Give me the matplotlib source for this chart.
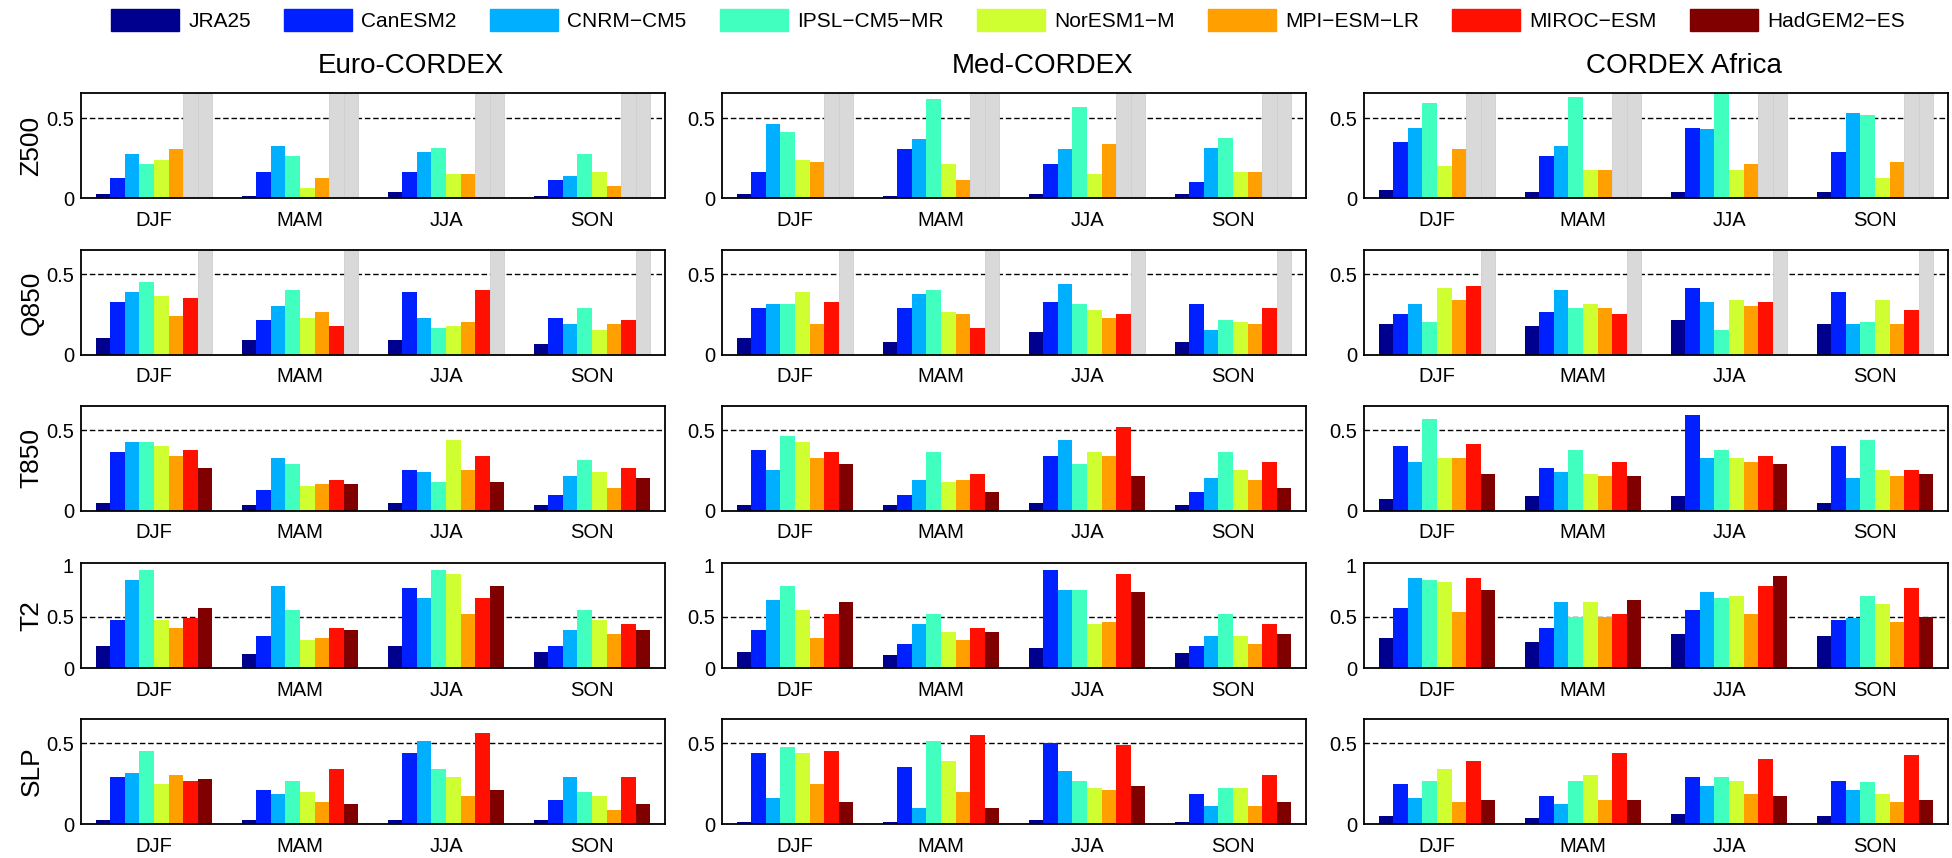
import numpy as np
import matplotlib.pyplot as plt

plt.rcParams["font.family"] = ["Liberation Sans", "DejaVu Sans"]

nan = np.nan

models = ["JRA25", "CanESM2", "CNRM\u2212CM5", "IPSL\u2212CM5\u2212MR", "NorESM1\u2212M",
          "MPI\u2212ESM\u2212LR", "MIROC\u2212ESM", "HadGEM2\u2212ES"]
colors = ["#00008f", "#0020ff", "#00afff", "#40ffbf", "#cfff30", "#ff9f00", "#ff1000", "#800000"]
seasons = ["DJF", "MAM", "JJA", "SON"]
regions = ["Euro-CORDEX", "Med-CORDEX", "CORDEX Africa"]
variables = ["Z500", "Q850", "T850", "T2", "SLP"]

# rows: DJF, MAM, JJA, SON ; columns: models (nan = not available)
z500_euro = [[0.025, 0.128, 0.277, 0.214, 0.242, 0.305, nan, nan],
             [0.013, 0.164, 0.328, 0.265, 0.063, 0.128, nan, nan],
             [0.038, 0.164, 0.292, 0.315, 0.151, 0.151, nan, nan],
             [0.013, 0.113, 0.139, 0.277, 0.164, 0.076, nan, nan]]
z500_med = [[0.025, 0.164, 0.468, 0.418, 0.242, 0.227, nan, nan],
            [0.013, 0.305, 0.368, 0.620, 0.214, 0.113, nan, nan],
            [0.025, 0.214, 0.305, 0.569, 0.151, 0.342, nan, nan],
            [0.025, 0.101, 0.317, 0.380, 0.164, 0.164, nan, nan]]
z500_afr = [[0.050, 0.355, 0.443, 0.595, 0.202, 0.305, nan, nan],
            [0.038, 0.267, 0.330, 0.632, 0.176, 0.176, nan, nan],
            [0.038, 0.443, 0.431, 0.680, 0.176, 0.214, nan, nan],
            [0.038, 0.292, 0.532, 0.519, 0.126, 0.227, nan, nan]]

q850_euro = [[0.103, 0.329, 0.390, 0.452, 0.364, 0.240, 0.353, nan],
             [0.091, 0.215, 0.302, 0.403, 0.229, 0.267, 0.180, nan],
             [0.091, 0.390, 0.229, 0.167, 0.180, 0.205, 0.403, nan],
             [0.066, 0.229, 0.192, 0.291, 0.155, 0.192, 0.217, nan]]
q850_med = [[0.103, 0.291, 0.316, 0.316, 0.390, 0.192, 0.329, nan],
            [0.079, 0.291, 0.378, 0.403, 0.267, 0.252, 0.167, nan],
            [0.140, 0.329, 0.440, 0.316, 0.279, 0.229, 0.252, nan],
            [0.079, 0.316, 0.155, 0.217, 0.205, 0.192, 0.291, nan]]
q850_afr = [[0.192, 0.254, 0.316, 0.205, 0.415, 0.341, 0.428, nan],
            [0.180, 0.267, 0.403, 0.291, 0.316, 0.291, 0.254, nan],
            [0.217, 0.415, 0.329, 0.155, 0.341, 0.304, 0.329, nan],
            [0.192, 0.390, 0.192, 0.205, 0.341, 0.192, 0.279, nan]]

t850_euro = [[0.052, 0.367, 0.429, 0.429, 0.404, 0.342, 0.379, 0.267],
             [0.040, 0.129, 0.329, 0.292, 0.152, 0.165, 0.192, 0.165],
             [0.052, 0.254, 0.242, 0.177, 0.442, 0.254, 0.342, 0.179],
             [0.040, 0.102, 0.217, 0.317, 0.242, 0.142, 0.267, 0.204]]
t850_med = [[0.040, 0.379, 0.254, 0.467, 0.429, 0.329, 0.367, 0.292],
            [0.040, 0.102, 0.192, 0.367, 0.179, 0.192, 0.229, 0.117],
            [0.052, 0.342, 0.442, 0.292, 0.367, 0.342, 0.517, 0.217],
            [0.040, 0.117, 0.204, 0.367, 0.254, 0.192, 0.304, 0.142]]
t850_afr = [[0.077, 0.404, 0.304, 0.567, 0.329, 0.329, 0.417, 0.229],
            [0.090, 0.267, 0.242, 0.379, 0.229, 0.217, 0.304, 0.217],
            [0.090, 0.592, 0.329, 0.379, 0.329, 0.304, 0.342, 0.292],
            [0.052, 0.404, 0.204, 0.442, 0.254, 0.217, 0.254, 0.229]]

t2_euro = [[0.218, 0.468, 0.853, 0.949, 0.468, 0.391, 0.487, 0.583],
           [0.138, 0.314, 0.795, 0.564, 0.276, 0.295, 0.391, 0.372],
           [0.218, 0.776, 0.679, 0.949, 0.910, 0.526, 0.679, 0.795],
           [0.160, 0.218, 0.372, 0.564, 0.468, 0.333, 0.429, 0.372]]
t2_med = [[0.160, 0.372, 0.660, 0.795, 0.564, 0.295, 0.526, 0.641],
          [0.122, 0.237, 0.429, 0.526, 0.353, 0.276, 0.391, 0.353],
          [0.199, 0.949, 0.756, 0.756, 0.429, 0.449, 0.910, 0.737],
          [0.141, 0.218, 0.314, 0.526, 0.314, 0.237, 0.429, 0.333]]
t2_afr = [[0.295, 0.583, 0.872, 0.853, 0.833, 0.545, 0.872, 0.756],
          [0.256, 0.391, 0.641, 0.500, 0.641, 0.500, 0.526, 0.660],
          [0.333, 0.564, 0.737, 0.679, 0.699, 0.526, 0.795, 0.891],
          [0.314, 0.468, 0.487, 0.699, 0.622, 0.449, 0.776, 0.500]]

slp_euro = [[0.024, 0.294, 0.318, 0.451, 0.245, 0.306, 0.269, 0.281],
            [0.024, 0.209, 0.184, 0.269, 0.196, 0.136, 0.342, 0.123],
            [0.024, 0.439, 0.512, 0.342, 0.294, 0.172, 0.561, 0.209],
            [0.024, 0.148, 0.294, 0.196, 0.172, 0.087, 0.294, 0.123]]
slp_med = [[0.014, 0.439, 0.160, 0.476, 0.439, 0.245, 0.451, 0.136],
           [0.014, 0.354, 0.099, 0.512, 0.391, 0.196, 0.549, 0.099],
           [0.024, 0.500, 0.330, 0.269, 0.221, 0.209, 0.488, 0.233],
           [0.014, 0.184, 0.111, 0.221, 0.221, 0.111, 0.306, 0.136]]
slp_afr = [[0.051, 0.245, 0.160, 0.269, 0.342, 0.136, 0.391, 0.148],
           [0.038, 0.172, 0.123, 0.269, 0.306, 0.148, 0.439, 0.148],
           [0.063, 0.294, 0.233, 0.294, 0.269, 0.184, 0.403, 0.172],
           [0.051, 0.269, 0.209, 0.257, 0.184, 0.136, 0.427, 0.148]]

panels = {
    "Z500": [z500_euro, z500_med, z500_afr],
    "Q850": [q850_euro, q850_med, q850_afr],
    "T850": [t850_euro, t850_med, t850_afr],
    "T2": [t2_euro, t2_med, t2_afr],
    "SLP": [slp_euro, slp_med, slp_afr],
}
ytop = {"Z500": 0.66, "Q850": 0.65, "T850": 0.65, "T2": 1.02, "SLP": 0.65}

W, H = 1952, 858
fig = plt.figure(figsize=(W / 100, H / 100), dpi=100)

col_left = [81, 722, 1364]
col_w = 584
row_top = [93, 250, 406, 563, 719]
row_h = 105

title_x = [411, 1043, 1684]
for j, reg in enumerate(regions):
    fig.text(title_x[j] / W, 1 - 66 / H, reg, ha="center", va="center", fontsize=20)

bar_w = 0.1
x = np.arange(1, len(seasons) + 1)
for i, var in enumerate(variables):
    top = ytop[var]
    for j in range(len(regions)):
        ax = fig.add_axes([col_left[j] / W, 1 - (row_top[i] + row_h) / H, col_w / W, row_h / H])
        vals = np.array(panels[var][j], dtype=float)
        for k in range(len(models)):
            xs = x - 0.35 + bar_w * k
            v = vals[:, k]
            miss = np.isnan(v)
            ax.bar(xs[~miss], v[~miss], width=bar_w, color=colors[k], linewidth=0, zorder=2)
            # missing model: grey bar over the full height
            if miss.any():
                ax.bar(xs[miss], top, width=bar_w, color="#d9d9d9", edgecolor="#cfcfcf",
                       linewidth=0.6, zorder=2)
        ax.axhline(0.5, color="black", lw=1.0, ls=(0, (4, 2)), zorder=1)
        ax.set_xlim(0.5, 4.5)
        ax.set_ylim(0, top)
        ax.set_xticks(x)
        ax.set_xticklabels(seasons)
        if var == "T2":
            ax.set_yticks([0, 0.5, 1])
            ax.set_yticklabels(["0", "0.5", "1"])
        else:
            ax.set_yticks([0, 0.5])
            ax.set_yticklabels(["0", "0.5"])
        ax.tick_params(length=0, labelsize=14.5)
        ax.tick_params(axis="x", pad=9)
        ax.tick_params(axis="y", pad=5)
        for s in ax.spines.values():
            s.set_linewidth(1.3)
        if j == 0:
            ax.set_ylabel(var, fontsize=19, labelpad=2)

leg_handles = [plt.Rectangle((0, 0), 1, 1, color=c) for c in colors]
fig.legend(leg_handles, models, loc="center", bbox_to_anchor=(1008 / W, 1 - 20 / H), ncol=8,
           frameon=False, fontsize=15, handlelength=3.27, handleheight=1.25,
           handletextpad=0.43, columnspacing=1.6)

fig.savefig("out.png", dpi=100)
